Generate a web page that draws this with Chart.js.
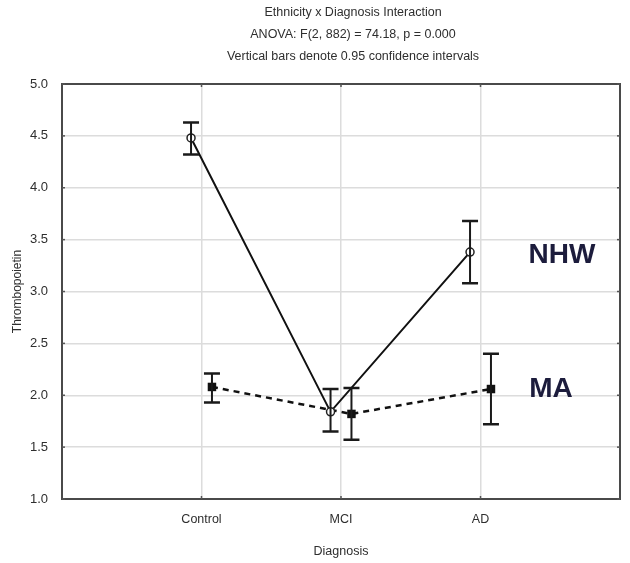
<!DOCTYPE html>
<html>
<head>
<meta charset="utf-8">
<script src="https://cdn.jsdelivr.net/npm/chart.js@4/dist/chart.umd.min.js"></script>
<style>
html,body{margin:0;padding:0;background:#fff;}
#wrap{width:630px;height:563px;position:relative;}
</style>
</head>
<body>
<div id="wrap"><canvas id="c" width="630" height="563"></canvas></div>
<script>
const categories = ["Control", "MCI", "AD"];
const nhwMean = [4.48, 1.84, 3.38];
const nhwLow  = [4.32, 1.65, 3.08];
const nhwHigh = [4.63, 2.06, 3.68];
const maMean  = [2.08, 1.82, 2.06];
const maLow   = [1.93, 1.57, 1.72];
const maHigh  = [2.21, 2.07, 2.40];
const yTicks  = [1.0, 1.5, 2.0, 2.5, 3.0, 3.5, 4.0, 4.5, 5.0];
const titleLines = [
  "Ethnicity x Diagnosis Interaction",
  "ANOVA: F(2, 882) = 74.18, p = 0.000",
  "Vertical bars denote 0.95 confidence intervals"
];
const seriesNames = ["NHW", "MA"];

const OFF = 0.075;
const pts = (means, off) => means.map((v, i) => ({x: i + 1 + off, y: v}));

const FONT = "'Liberation Sans', Arial, sans-serif";
const TXT = '#2e2e2e';

const extras = {
  id: 'extras',
  afterDatasetsDraw(chart) {
    const {ctx, chartArea: a, scales: {x, y}} = chart;
    ctx.save();
    ctx.strokeStyle = '#4a4a4a';
    ctx.lineWidth = 2;
    ctx.strokeRect(a.left, a.top, a.right - a.left, a.bottom - a.top);
    ctx.lineWidth = 1.5;
    ctx.strokeStyle = '#555';
    yTicks.forEach(t => {
      const py = y.getPixelForValue(t);
      ctx.beginPath(); ctx.moveTo(a.left, py); ctx.lineTo(a.left + 3, py); ctx.stroke();
      ctx.beginPath(); ctx.moveTo(a.right, py); ctx.lineTo(a.right - 3, py); ctx.stroke();
    });
    categories.forEach((c, i) => {
      const px = x.getPixelForValue(i + 1);
      ctx.beginPath(); ctx.moveTo(px, a.top); ctx.lineTo(px, a.top + 3); ctx.stroke();
      ctx.beginPath(); ctx.moveTo(px, a.bottom); ctx.lineTo(px, a.bottom - 3); ctx.stroke();
    });
    const drawErr = (lo, hi, off) => {
      ctx.strokeStyle = '#1a1a1a';
      lo.forEach((l, i) => {
        const px = x.getPixelForValue(i + 1 + off);
        const p1 = y.getPixelForValue(l), p2 = y.getPixelForValue(hi[i]);
        ctx.lineWidth = 2;
        ctx.beginPath();
        ctx.moveTo(px, p1); ctx.lineTo(px, p2);
        ctx.stroke();
        ctx.lineWidth = 2.5;
        ctx.beginPath();
        ctx.moveTo(px - 8, p1); ctx.lineTo(px + 8, p1);
        ctx.moveTo(px - 8, p2); ctx.lineTo(px + 8, p2);
        ctx.stroke();
      });
    };
    drawErr(nhwLow, nhwHigh, -OFF);
    drawErr(maLow, maHigh, OFF);
    ctx.fillStyle = '#1c1c3c';
    ctx.font = 'bold 28px ' + FONT;
    ctx.textAlign = 'center';
    ctx.textBaseline = 'middle';
    ctx.fillText(seriesNames[0], 562, y.getPixelForValue(3.35));
    ctx.fillText(seriesNames[1], 551, y.getPixelForValue(2.06));
    ctx.fillStyle = TXT;
    ctx.font = '12.5px ' + FONT;
    titleLines.forEach((t, i) => ctx.fillText(t, 353, 13 + i * 22));
    ctx.restore();
  }
};

new Chart(document.getElementById('c'), {
  type: 'scatter',
  data: {
    datasets: [
      {
        label: seriesNames[0],
        data: pts(nhwMean, -OFF),
        showLine: true,
        borderColor: '#111',
        borderWidth: 2,
        pointStyle: 'circle',
        pointRadius: 4,
        pointBorderWidth: 1.5,
        pointBackgroundColor: '#fff',
        pointBorderColor: '#222'
      },
      {
        label: seriesNames[1],
        data: pts(maMean, OFF),
        showLine: true,
        borderColor: '#111',
        borderWidth: 2.5,
        borderDash: [6, 5],
        pointStyle: 'rect',
        pointRadius: 6,
        pointBorderWidth: 0,
        pointBackgroundColor: '#111',
        pointBorderColor: '#111'
      }
    ]
  },
  options: {
    responsive: false,
    animation: false,
    layout: {padding: {top: 84, right: 10, left: 0, bottom: 0}},
    plugins: {legend: {display: false}, tooltip: {enabled: false}},
    scales: {
      x: {
        type: 'linear', min: 0, max: 4,
        afterFit: s => { s.height = 64; s.paddingLeft = 0; s.paddingRight = 0; },
        afterBuildTicks: s => { s.ticks = [0, 1, 2, 3, 4].map(v => ({value: v})); },
        ticks: {
          callback: v => (v >= 1 && v <= 3) ? categories[v - 1] : '',
          color: TXT, font: {family: FONT, size: 12.5}, padding: 13, maxRotation: 0
        },
        grid: {
          color: c => (c.tick && c.tick.value > 0 && c.tick.value < 4) ? '#dcdcdc' : 'rgba(0,0,0,0)',
          lineWidth: 1.5, drawTicks: false
        },
        border: {display: false},
        title: {display: true, text: 'Diagnosis', color: TXT, font: {family: FONT, size: 12.5}, padding: {top: 4}}
      },
      y: {
        min: 1, max: 5,
        afterFit: s => { s.width = 62; s.paddingTop = 0; s.paddingBottom = 0; },
        afterBuildTicks: s => { s.ticks = yTicks.map(v => ({value: v})); },
        ticks: {
          callback: v => Number(v).toFixed(1),
          color: TXT, font: {family: FONT, size: 13}, padding: 14
        },
        grid: {
          color: c => (c.tick && c.tick.value > 1 && c.tick.value < 5) ? '#dcdcdc' : 'rgba(0,0,0,0)',
          lineWidth: 1.5, drawTicks: false
        },
        border: {display: false},
        title: {display: true, text: 'Thrombopoietin', color: TXT, font: {family: FONT, size: 12}, padding: {top: 10, bottom: 0}}
      }
    }
  },
  plugins: [extras]
});
</script>
</body>
</html>
